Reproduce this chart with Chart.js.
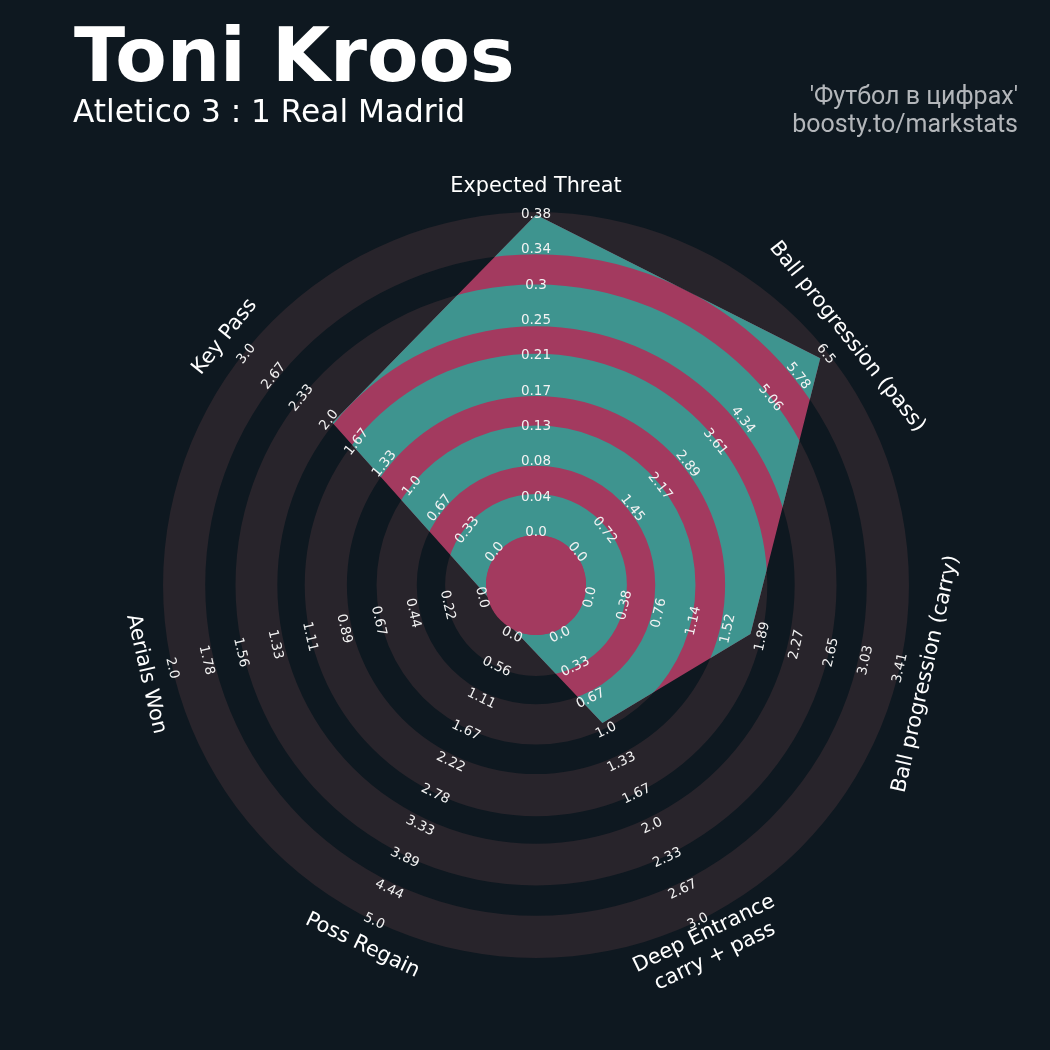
<!DOCTYPE html>
<html>
<head>
<meta charset="utf-8">
<title>Toni Kroos - radar</title>
<script src="https://cdn.jsdelivr.net/npm/chart.js@4.4.1/dist/chart.umd.min.js"></script>
<style>
  html, body { margin: 0; padding: 0; background: #0e1820; }
  canvas { display: block; }
</style>
</head>
<body>
<canvas id="radar" width="1050" height="1050"></canvas>
<script>
// params go clockwise from the top
var params = ['Expected Threat', 'Ball progression (pass)', 'Ball progression (carry)',
  ['Deep Entrance', 'carry + pass'], 'Poss Regain', 'Aerials Won', 'Key Pass'];
var values = [0.378, 6.33, 1.80, 0.96, 0, 0, 1.96];
var lowRange = [0, 0, 0, 0, 0, 0, 0];
var highRange = [0.38, 6.5, 3.41, 3.0, 5.0, 2.0, 3.0];

// tick labels printed along every spoke
var ticksThreat = ['0.0', '0.04', '0.08', '0.13', '0.17', '0.21', '0.25', '0.3', '0.34', '0.38'];
var ticksPass = ['0.0', '0.72', '1.45', '2.17', '2.89', '3.61', '4.34', '5.06', '5.78', '6.5'];
var ticksCarry = ['0.0', '0.38', '0.76', '1.14', '1.52', '1.89', '2.27', '2.65', '3.03', '3.41'];
var ticksDeep = ['0.0', '0.33', '0.67', '1.0', '1.33', '1.67', '2.0', '2.33', '2.67', '3.0'];
var ticksRegain = ['0.0', '0.56', '1.11', '1.67', '2.22', '2.78', '3.33', '3.89', '4.44', '5.0'];
var ticksAerials = ['0.0', '0.22', '0.44', '0.67', '0.89', '1.11', '1.33', '1.56', '1.78', '2.0'];
var ticksKeyPass = ['0.0', '0.33', '0.67', '1.0', '1.33', '1.67', '2.0', '2.33', '2.67', '3.0'];
var tickLabels = [ticksThreat, ticksPass, ticksCarry, ticksDeep, ticksRegain, ticksAerials, ticksKeyPass];

var BG = '#0e1820';
var RING = '#28242b';
var TEAL = '#3e948f';
var PINK = '#a33a5f';

// rings, in scale units (0 = inner circle edge, 1 = outer edge)
var rings = [[0, 0.127], [0.215, 0.34], [0.432, 0.563], [0.648, 0.778], [0.872, 1.003]];

// value 0 sits on the inner circle, not in the middle
var innerFrac = 0.1553;

var scaled = values.map(function(v, i) {
  return (v - lowRange[i]) / (highRange[i] - lowRange[i]);
});

function drawRings(ctx, scale, color) {
  var cx = scale.xCenter, cy = scale.yCenter;
  ctx.fillStyle = color;
  rings.forEach(function(r) {
    var r0 = scale.getDistanceFromCenterForValue(r[0]);
    var r1 = scale.getDistanceFromCenterForValue(r[1]);
    ctx.beginPath();
    ctx.arc(cx, cy, r1, 0, Math.PI * 2);
    ctx.arc(cx, cy, r0, 0, Math.PI * 2, true);
    ctx.fill();
  });
}

function textRotation(scale, i) {
  var a = scale.getIndexAngle(i);
  if (a > Math.PI / 2 + 0.001 && a < Math.PI * 1.5 - 0.001) a -= Math.PI;
  return a;
}

var radarPlugin = {
  id: 'radarDecor',
  beforeDraw: function(chart) {
    var ctx = chart.ctx;
    ctx.save();
    ctx.fillStyle = BG;
    ctx.fillRect(0, 0, chart.width, chart.height);
    drawRings(ctx, chart.scales.r, RING);
    ctx.restore();
  },
  afterDatasetsDraw: function(chart) {
    var ctx = chart.ctx;
    var scale = chart.scales.r;
    var pts = chart.getDatasetMeta(0).data;
    ctx.save();
    ctx.beginPath();
    pts.forEach(function(p, i) {
      if (i === 0) ctx.moveTo(p.x, p.y); else ctx.lineTo(p.x, p.y);
    });
    ctx.closePath();
    ctx.clip();
    drawRings(ctx, scale, TEAL);
    ctx.restore();

    // centre circle
    ctx.save();
    ctx.fillStyle = PINK;
    ctx.beginPath();
    ctx.arc(scale.xCenter, scale.yCenter, scale.getDistanceFromCenterForValue(0), 0, Math.PI * 2);
    ctx.fill();
    ctx.restore();
  },
  afterDraw: function(chart) {
    var ctx = chart.ctx;
    var scale = chart.scales.r;
    ctx.save();
    ctx.textAlign = 'center';
    ctx.textBaseline = 'middle';

    // tick labels
    ctx.fillStyle = '#f2f2f2';
    ctx.font = '13.5px "DejaVu Sans"';
    tickLabels.forEach(function(list, i) {
      var rot = textRotation(scale, i);
      list.forEach(function(txt, k) {
        var p = scale.getPointPositionForValue(i, 0.0125 + k * 0.1097);
        ctx.save();
        ctx.translate(p.x, p.y);
        ctx.rotate(rot);
        ctx.fillText(txt, 0, 1.5);
        ctx.restore();
      });
    });

    // param names
    ctx.fillStyle = '#ffffff';
    ctx.font = '20.8px "DejaVu Sans"';
    params.forEach(function(name, i) {
      var p = scale.getPointPositionForValue(i, 1.084);
      var lines = Array.isArray(name) ? name : [name];
      ctx.save();
      ctx.translate(p.x, p.y);
      ctx.rotate(textRotation(scale, i));
      lines.forEach(function(l, j) {
        ctx.fillText(l, 0, 1 + (j - (lines.length - 1) / 2) * 25);
      });
      ctx.restore();
    });

    // title block
    ctx.textAlign = 'left';
    ctx.textBaseline = 'alphabetic';
    ctx.fillStyle = '#ffffff';
    ctx.font = 'bold 75px "DejaVu Sans"';
    ctx.fillText('Toni Kroos', 74, 81);
    ctx.font = '31.2px "DejaVu Sans"';
    ctx.fillText('Atletico 3 : 1 Real Madrid', 73, 122);

    ctx.textAlign = 'right';
    ctx.fillStyle = '#b3b6ba';
    ctx.font = '25px Roboto';
    ctx.fillText("'Футбол в цифрах'", 1018, 104);
    ctx.fillText('boosty.to/markstats', 1018, 132);
    ctx.restore();
  }
};

new Chart(document.getElementById('radar'), {
  type: 'radar',
  data: {
    labels: params,
    datasets: [{
      data: scaled,
      backgroundColor: PINK,
      borderWidth: 0,
      pointRadius: 0,
      pointHoverRadius: 0,
      fill: 'start'
    }]
  },
  options: {
    responsive: false,
    devicePixelRatio: 1,
    animation: false,
    layout: { padding: { left: 164, right: 142, top: 213, bottom: 93 } },
    plugins: { legend: { display: false }, tooltip: { enabled: false } },
    scales: {
      r: {
        min: -innerFrac,
        max: 1,
        startAngle: 0,
        grid: { display: false },
        angleLines: { display: false },
        ticks: { display: false },
        pointLabels: { display: false }
      }
    }
  },
  plugins: [radarPlugin]
});
</script>
</body>
</html>
